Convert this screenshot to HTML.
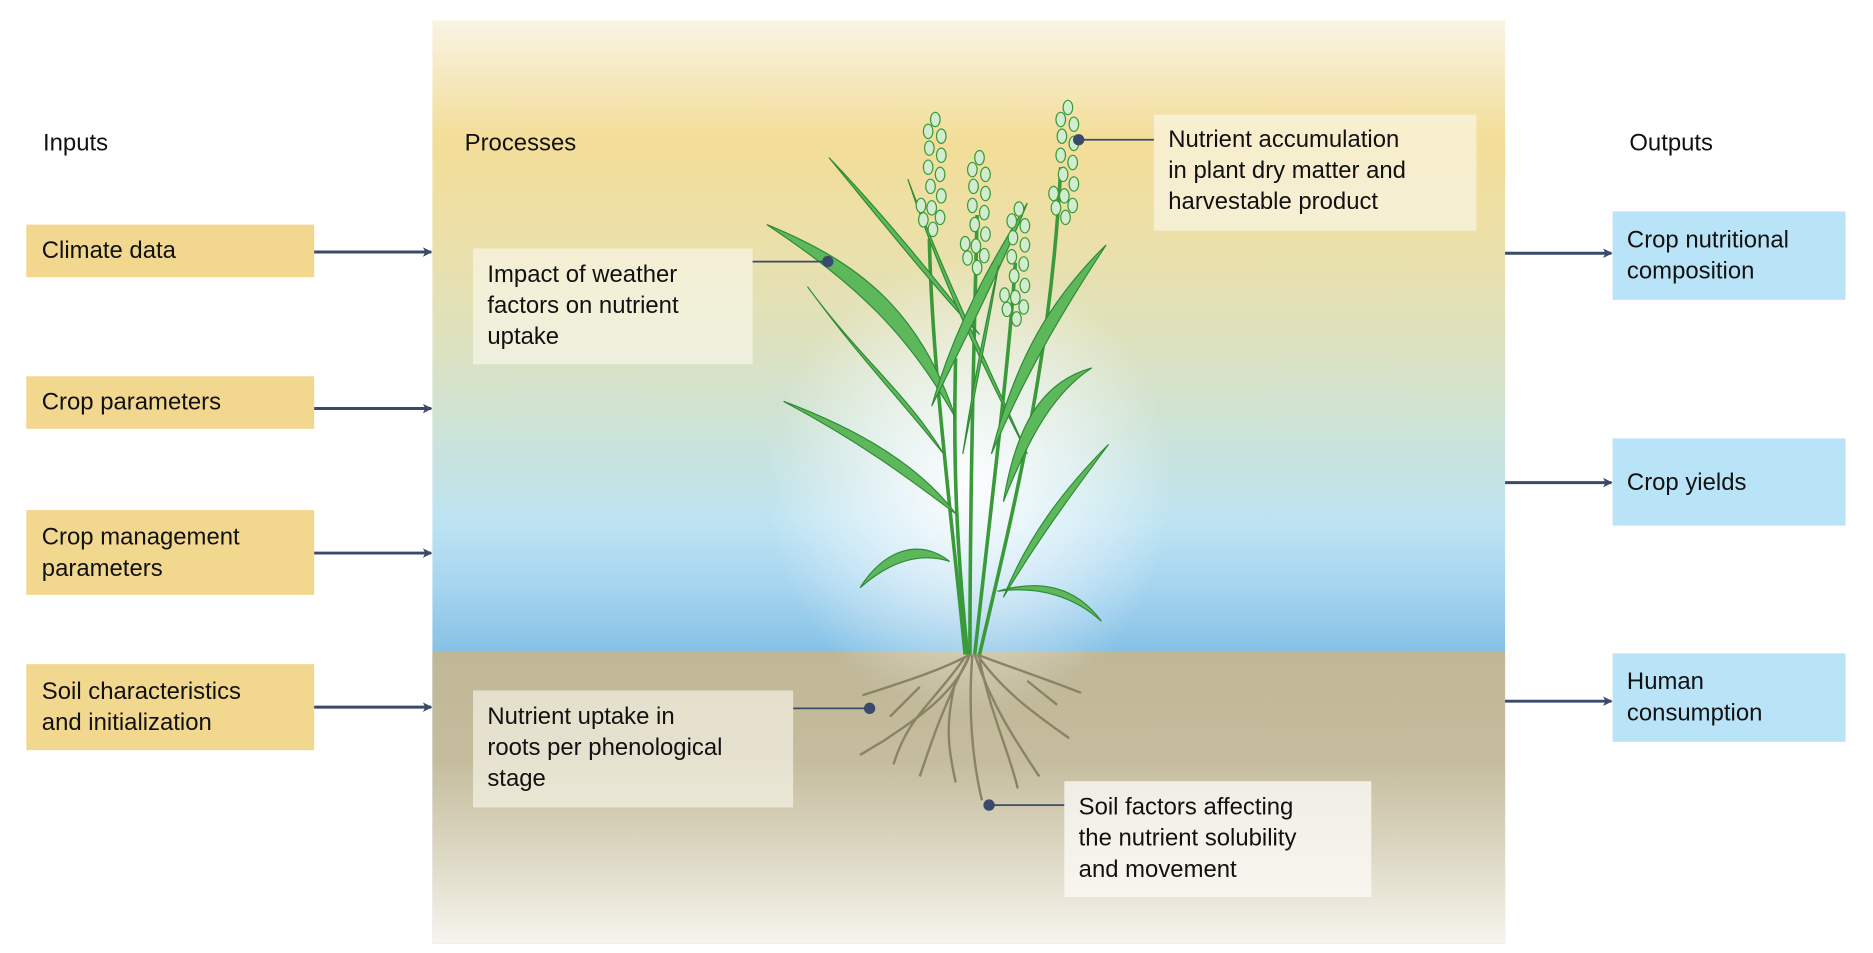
<!DOCTYPE html>
<html><head><meta charset="utf-8"><style>
html,body{margin:0;padding:0;background:#fff;width:1873px;height:953px;overflow:hidden}
#w{position:absolute;left:0;top:0;width:1568px;height:798px;transform:scale(1.19452);transform-origin:0 0;font-family:"Liberation Sans",sans-serif;color:#111}
.t{position:absolute;font-size:20px;line-height:26px}
.in{position:absolute;left:22px;width:241px;background:#f2d78e;box-sizing:border-box;padding:0 13px;display:flex;align-items:center;font-size:20px;line-height:26px}
.out{position:absolute;left:1350px;width:195px;background:#b9e4f7;box-sizing:border-box;padding:0 12px;display:flex;align-items:center;font-size:20px;line-height:26px}
.pb{position:absolute;background:rgba(250,248,238,0.62);box-sizing:border-box;padding:9px 12px;font-size:20px;line-height:26px}
#panel{position:absolute;left:362px;top:17px;width:898px;height:773px;background:linear-gradient(#f9f4e4 0px,#f3dd98 100px,#ece0a8 180px,#dfe1bc 260px,#cde3d6 340px,#bde3f2 420px,#a8d6f0 470px,#86c2e6 528px)}
#soil{position:absolute;left:0;top:528px;width:898px;height:245px;background:linear-gradient(#bfb796 0px,#c4bc9c 90px,#ddd8c4 170px,#f6f4ee 245px)}
#glow{position:absolute;left:280px;top:200px;width:340px;height:380px;background:radial-gradient(closest-side,rgba(255,255,255,0.95),rgba(255,255,255,0.5) 50%,rgba(255,255,255,0) 100%)}
</style></head><body><div id="w">
<div id="panel"><div id="soil"></div><div id="glow"></div></div>
<div class="t" style="left:36px;top:107px">Inputs</div>
<div class="t" style="left:389px;top:107px">Processes</div>
<div class="t" style="left:1364px;top:107px">Outputs</div>
<div class="in" style="top:188px;height:44px">Climate data</div>
<div class="in" style="top:315px;height:44px">Crop parameters</div>
<div class="in" style="top:427px;height:71px">Crop management<br>parameters</div>
<div class="in" style="top:556px;height:72px">Soil characteristics<br>and initialization</div>
<div class="out" style="top:177px;height:74px">Crop nutritional<br>composition</div>
<div class="out" style="top:367px;height:73px">Crop yields</div>
<div class="out" style="top:547px;height:74px">Human<br>consumption</div>
<svg style="position:absolute;left:0;top:0" width="1568" height="798">
<defs><marker id="a" markerWidth="8" markerHeight="8" refX="7" refY="4" orient="auto" markerUnits="userSpaceOnUse"><path d="M0,0 L8,4 L0,8 L2,4Z" fill="#3b4a6b"/></marker>
<g id="h"><ellipse cx="0" cy="0" rx="4" ry="6"/><ellipse cx="-6" cy="10" rx="4" ry="6"/><ellipse cx="5" cy="14" rx="4" ry="6"/><ellipse cx="-5" cy="24" rx="4" ry="6"/><ellipse cx="5" cy="30" rx="4" ry="6"/><ellipse cx="-6" cy="40" rx="4" ry="6"/><ellipse cx="4" cy="46" rx="4" ry="6"/><ellipse cx="-4" cy="56" rx="4" ry="6"/><ellipse cx="5" cy="64" rx="4" ry="6"/><ellipse cx="-3" cy="74" rx="4" ry="6"/><ellipse cx="4" cy="82" rx="4" ry="6"/><ellipse cx="-2" cy="92" rx="4" ry="6"/><ellipse cx="-12" cy="72" rx="4" ry="6"/><ellipse cx="-10" cy="84" rx="4" ry="6"/></g></defs>
<g stroke="#3b4a6b" stroke-width="2.5" marker-end="url(#a)">
<line x1="263" y1="211" x2="361" y2="211"/><line x1="263" y1="342" x2="361" y2="342"/>
<line x1="263" y1="463" x2="361" y2="463"/><line x1="263" y1="592" x2="361" y2="592"/>
<line x1="1260" y1="212" x2="1349" y2="212"/><line x1="1260" y1="404" x2="1349" y2="404"/>
<line x1="1260" y1="587" x2="1349" y2="587"/></g>
<g stroke="#8a8464" stroke-width="2" fill="none">
<path d="M812 548 C790 560 760 570 722 582"/><path d="M812 548 C800 580 770 600 740 620 L720 632"/>
<path d="M812 548 C790 590 780 620 770 650"/><path d="M814 548 C810 600 815 640 822 670"/>
<path d="M816 548 C830 590 850 620 870 650"/><path d="M818 548 C850 560 880 570 905 580"/>
<path d="M818 548 C840 580 870 600 895 618"/><path d="M808 550 C780 590 760 600 748 640"/>
<path d="M820 552 C830 600 845 630 852 660"/><path d="M770 575 L745 600"/><path d="M860 570 L885 590"/>
<path d="M800 570 C790 610 795 630 800 655"/></g>
<g stroke="#3a9a3a" stroke-width="3" fill="none">
<path d="M808 548 C795 420 780 300 778 200"/><path d="M812 548 C812 420 815 300 818 180"/>
<path d="M816 548 C830 420 845 300 850 220"/><path d="M820 548 C850 420 880 300 888 140"/>
<path d="M810 548 C800 450 798 380 800 300"/></g>
<g fill="#5cb85a" stroke="#2f8a35" stroke-width="1">
<path d="M642 188 C720 220 770 260 800 350 C760 280 720 240 642 188Z"/>
<path d="M694 132 C740 180 780 230 820 280 C790 250 750 200 694 132Z"/>
<path d="M676 240 C720 300 760 330 790 380 C750 330 720 300 676 240Z"/>
<path d="M656 336 C720 360 770 390 800 430 C760 400 720 370 656 336Z"/>
<path d="M760 150 C790 230 820 290 860 380 C820 300 790 240 760 150Z"/>
<path d="M860 170 C830 220 800 270 780 340 C810 280 840 220 860 170Z"/>
<path d="M926 205 C880 250 850 300 830 380 C860 310 890 260 926 205Z"/>
<path d="M914 308 C870 320 850 360 840 420 C860 370 880 330 914 308Z"/>
<path d="M928 372 C890 410 860 450 840 500 C870 450 900 410 928 372Z"/>
<path d="M720 492 C740 460 770 450 795 470 C770 462 745 470 720 492Z"/>
<path d="M922 520 C900 490 870 485 835 495 C870 490 900 500 922 520Z"/>
<path d="M836 222 C825 270 815 320 806 380 C818 320 828 270 836 222Z"/>
</g>
<g fill="#d2ecd0" stroke="#3a9a3a" stroke-width="1">
<use href="#h" x="783" y="100"/><use href="#h" x="820" y="132"/>
<use href="#h" x="853" y="175"/><use href="#h" x="894" y="90"/>
</g>
<g stroke="#3b4a6b" stroke-width="1.5" fill="#3b4a6b">
<line x1="630" y1="219" x2="693" y2="219"/><circle cx="693" cy="219" r="4"/>
<line x1="903" y1="117" x2="966" y2="117"/><circle cx="903" cy="117" r="4"/>
<line x1="664" y1="593" x2="728" y2="593"/><circle cx="728" cy="593" r="4"/>
<line x1="828" y1="674" x2="891" y2="674"/><circle cx="828" cy="674" r="4"/></g>
</svg>
<div class="pb" style="left:396px;top:208px;width:234px;height:97px">Impact of weather<br>factors on nutrient<br>uptake</div>
<div class="pb" style="left:966px;top:96px;width:270px;height:97px;padding-top:8px">Nutrient accumulation<br>in plant dry matter and<br>harvestable product</div>
<div class="pb" style="left:396px;top:578px;width:268px;height:98px">Nutrient uptake in<br>roots per phenological<br>stage</div>
<div class="pb" style="left:891px;top:654px;width:257px;height:97px;background:rgba(250,249,244,0.8)">Soil factors affecting<br>the nutrient solubility<br>and movement</div>
</div></body></html>
